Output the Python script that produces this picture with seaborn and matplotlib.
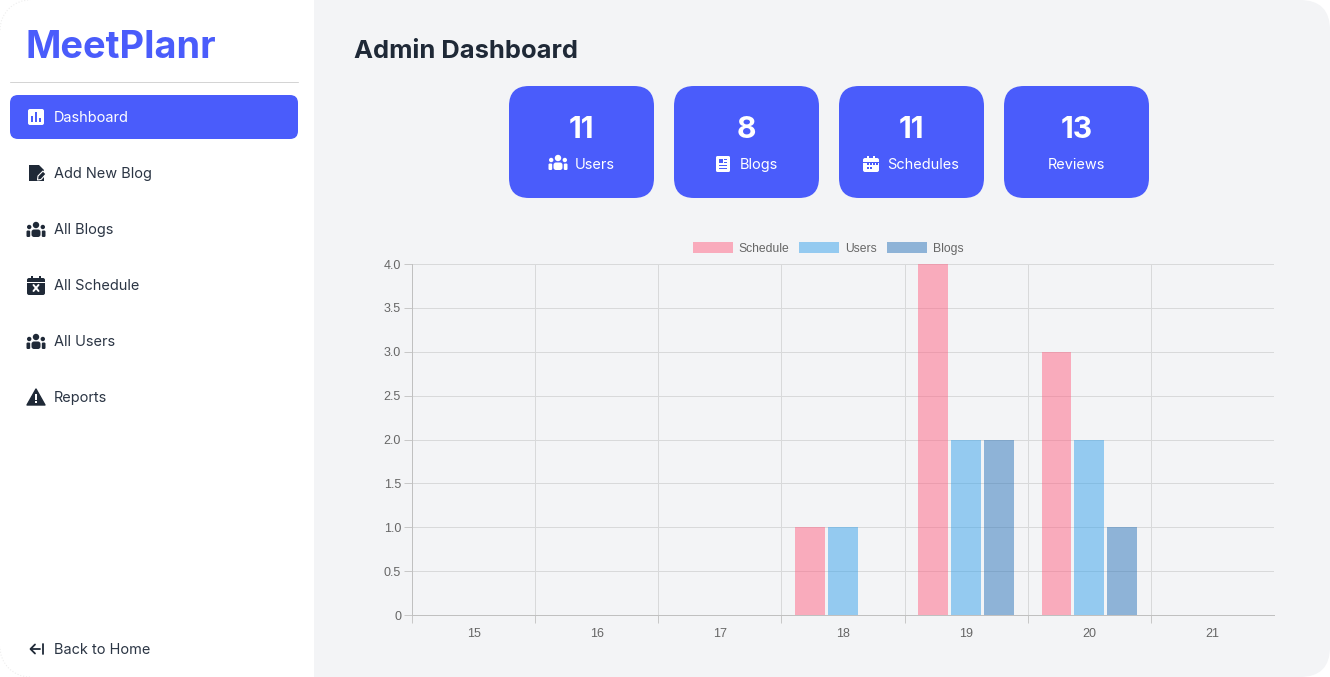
#!/usr/bin/env python3
"""Admin dashboard screenshot: sidebar, stat cards and grouped bar chart."""
import pandas as pd
import matplotlib
matplotlib.use("Agg")
import matplotlib.pyplot as plt
import seaborn as sns
from matplotlib.patches import FancyBboxPatch, Circle, Polygon, Rectangle, Arc

days = ["15", "16", "17", "18", "19", "20", "21"]
schedule_counts = [0, 0, 0, 1, 4, 3, 0]
user_counts = [0, 0, 0, 1, 2, 2, 0]
blog_counts = [0, 0, 0, 0, 2, 1, 0]
series_names = ["Schedule", "Users", "Blogs"]
y_ticks = [0, 0.5, 1, 1.5, 2, 2.5, 3, 3.5, 4]
y_tick_labels = ["0", "0.5", "1.0", "1.5", "2.0", "2.5", "3.0", "3.5", "4.0"]

nav_items = ["Dashboard", "Add New Blog", "All Blogs", "All Schedule", "All Users", "Reports"]
card_values = ["11", "8", "11", "13"]
card_labels = ["Users", "Blogs", "Schedules", "Reviews"]

BLUE = "#4a5cfb"
DARK = "#1f2937"
PAGE = "#f3f4f6"
W, H = 1330, 677

sns.set_theme(style="white")
plt.rcParams["font.family"] = ["Inter", "DejaVu Sans"]
plt.rcParams["patch.force_edgecolor"] = False
plt.rcParams["patch.linewidth"] = 0

fig = plt.figure(figsize=(W / 100, H / 100), dpi=100, facecolor="white")


def px(size):
    return size * 0.72


# -------------------------------
# Page layer, in pixel coordinates
# -------------------------------
ui = fig.add_axes([0, 0, 1, 1], zorder=0)
ui.set_xlim(0, W)
ui.set_ylim(H, 0)
ui.axis("off")


def rounded(x0, y0, x1, y1, r, color, z=1):
    p = FancyBboxPatch((x0 + r, y0 + r), x1 - x0 - 2 * r, y1 - y0 - 2 * r,
                       boxstyle=f"round,pad={r},rounding_size={r}",
                       fc=color, ec="none", lw=0, zorder=z)
    ui.add_patch(p)


def box(x, y, w, h, color, z=4):
    ui.add_patch(Rectangle((x, y), w, h, fc=color, ec="none", lw=0, zorder=z))


def people(cx, cy, color):
    ui.add_patch(Circle((cx, cy - 5), 3.2, fc=color, ec="none", zorder=3))
    ui.add_patch(Circle((cx - 6.8, cy - 3), 2.2, fc=color, ec="none", zorder=3))
    ui.add_patch(Circle((cx + 6.8, cy - 3), 2.2, fc=color, ec="none", zorder=3))
    rounded(cx - 4.5, cy - 0.5, cx + 4.5, cy + 7, 2.5, color, 3)
    rounded(cx - 9.5, cy + 0.5, cx - 5.8, cy + 7, 1.2, color, 3)
    rounded(cx + 5.8, cy + 0.5, cx + 9.5, cy + 7, 1.2, color, 3)


def calendar(cx, cy, color, bg, w=9, h=9.5):
    rounded(cx - w, cy - h + 2, cx + w, cy + h, 2, color, 3)
    box(cx - w + 4, cy - h, 2, 4, color, 3)
    box(cx + w - 6, cy - h, 2, 4, color, 3)
    box(cx - w, cy - h + 6, 2 * w, 1.3, bg, 4)


def doc_lines(cx, cy, color, bg):
    rounded(cx - 7, cy - 8, cx + 7, cy + 8, 1.5, color, 3)
    box(cx - 4, cy - 5, 3.5, 3.5, bg)
    box(cx + 1, cy - 5, 3, 1.3, bg)
    box(cx + 1, cy - 2.5, 3, 1.3, bg)
    box(cx - 4, cy + 0.5, 8, 1.3, bg)
    box(cx - 4, cy + 3.5, 8, 1.3, bg)


# page background with rounded right corners
box(314, 0, 100, H, PAGE, 0)
rounded(314, 0, W, H, 30, PAGE, 0)

# faint corner arcs of the white sidebar
ui.add_patch(Arc((30, 30), 60, 60, theta1=180, theta2=270, ec="#eeeeee", lw=0.8, ls=":", zorder=1))
ui.add_patch(Arc((30, H - 30), 60, 60, theta1=90, theta2=180, ec="#eeeeee", lw=0.8, ls=":", zorder=1))

# sidebar
ui.text(26, 48, "MeetPlanr", color=BLUE, fontsize=px(38), fontweight="bold", va="center", ha="left")
ui.plot([10, 298], [82, 82], color="#d4d4d4", lw=0.72, zorder=2)
rounded(10, 95, 298, 139, 8, BLUE, 1)

nav_y = [118, 174, 230, 286, 342, 398]
for name, y in zip(nav_items, nav_y):
    c = "white" if name == "Dashboard" else "#2b3544"
    ui.text(54, y, name, color=c, fontsize=px(14.5), va="center", ha="left", zorder=5)
ui.text(54, 650, "Back to Home", color="#2b3544", fontsize=px(14.5), va="center", ha="left")

# dashboard icon
rounded(28, 109, 44, 125, 2, "white", 3)
for x, top in [(31, 116), (35, 112), (39, 118)]:
    box(x, top, 2, 122 - top, BLUE)

# add-blog icon
ui.add_patch(Polygon([(29, 165), (39, 165), (44, 170), (44, 181), (29, 181)], fc=DARK, ec="none", zorder=3))
ui.add_patch(Polygon([(38, 176), (43, 171), (46, 174), (41, 179.5), (37.5, 180)], fc=DARK, ec="white", lw=0.8, zorder=4))

people(36, 230, DARK)
people(36, 342, DARK)

# all-schedule icon
calendar(36, 285.5, DARK, "white")
ui.plot([33.5, 38.5], [285, 291], color="white", lw=1.4, zorder=5)
ui.plot([33.5, 38.5], [291, 285], color="white", lw=1.4, zorder=5)

# reports icon
ui.add_patch(Polygon([(36, 389), (45, 405), (27, 405)], fc=DARK, ec=DARK, lw=1, joinstyle="round", zorder=3))
box(35.1, 394, 1.8, 6, "white")
box(35.1, 401.2, 1.8, 1.8, "white")

# back icon
ui.plot([31, 40], [649, 649], color=DARK, lw=1.3, zorder=3)
ui.plot([35, 30.5, 35], [644.5, 649, 653.5], color=DARK, lw=1.3, zorder=3)
ui.plot([42.5, 42.5], [644, 654], color=DARK, lw=1.3, zorder=3)

# heading
ui.text(354, 52, "Admin Dashboard", color=DARK, fontsize=px(25.5), fontweight="bold", va="center", ha="left")

# stat cards
card_left = [509, 674, 839, 1004]
label_x = [575, 740, 887, 1048]
for left, val, lab, tx in zip(card_left, card_values, card_labels, label_x):
    rounded(left, 86, left + 145, 198, 20, BLUE, 1)
    ui.text(left + 72.5, 130, val, color="white", fontsize=px(30), fontweight="bold", va="center", ha="center", zorder=5)
    ui.text(tx, 165, lab, color="white", fontsize=px(14.5), va="center", ha="left", zorder=5)
people(558, 163, "white")
doc_lines(723, 164, "white", BLUE)
calendar(871, 164, "white", BLUE, w=8, h=8)
for x in [867, 870, 873, 876]:
    box(x, 163, 1.8, 1.8, BLUE, 5)
for x in [867, 870]:
    box(x, 167, 1.8, 1.8, BLUE, 5)

# -------------------------------
# Bar chart
# -------------------------------
chart = pd.DataFrame({
    "day": days * 3,
    "series": [series_names[0]] * 7 + [series_names[1]] * 7 + [series_names[2]] * 7,
    "count": schedule_counts + user_counts + blog_counts,
})

ax = fig.add_axes([412 / W, 1 - 615 / H, 862 / W, 351 / H], zorder=2, facecolor="none")
sns.barplot(data=chart, x="day", y="count", hue="series", order=days, hue_order=series_names,
            palette=["#ff6384", "#36a2eb", "#2b74ba"], saturation=1, alpha=0.5, width=0.8, gap=0.09,
            linewidth=0, errorbar=None, ax=ax)
ax.set_xlim(-0.5, 6.5)
ax.set_ylim(0, 4)
ax.set_xlabel("")
ax.set_ylabel("")
ax.set_yticks(y_ticks)
ax.set_yticklabels(y_tick_labels)
ax.set_xticks([i - 0.5 for i in range(len(days))], minor=True)
ax.set_axisbelow(True)
ax.grid(True, axis="y", which="major", color="#d8d9da", lw=0.72)
ax.grid(True, axis="x", which="minor", color="#d8d9da", lw=0.72)
ax.grid(False, axis="x", which="major")
ax.tick_params(axis="x", which="major", length=0, pad=px(13), labelsize=px(12.5), labelcolor="#666666")
ax.tick_params(axis="x", which="minor", length=px(8), width=0.72, color="#c8c8c8", bottom=True)
ax.tick_params(axis="y", length=px(8), width=0.72, color="#c8c8c8", left=True, pad=px(3), labelsize=px(12.5), labelcolor="#666666")
for lab in ax.get_xticklabels() + ax.get_yticklabels():
    lab.set_fontfamily("Liberation Sans")
sns.despine(ax=ax)
ax.spines["left"].set_color("#c0c0c0")
ax.spines["bottom"].set_color("#c0c0c0")
ax.spines["left"].set_linewidth(0.72)
ax.spines["bottom"].set_linewidth(0.72)

handles, labels = ax.get_legend_handles_labels()
ax.legend(handles, labels, loc="center", bbox_to_anchor=(828 / W, 1 - 248.5 / H), bbox_transform=fig.transFigure,
          ncol=3, frameon=False, handlelength=3.3, handleheight=1, handletextpad=0.5, columnspacing=0.8,
          borderpad=0, prop={"family": "Liberation Sans", "size": px(12.1)}, labelcolor="#666666")

fig.savefig("out.png", dpi=100)
plt.close(fig)
